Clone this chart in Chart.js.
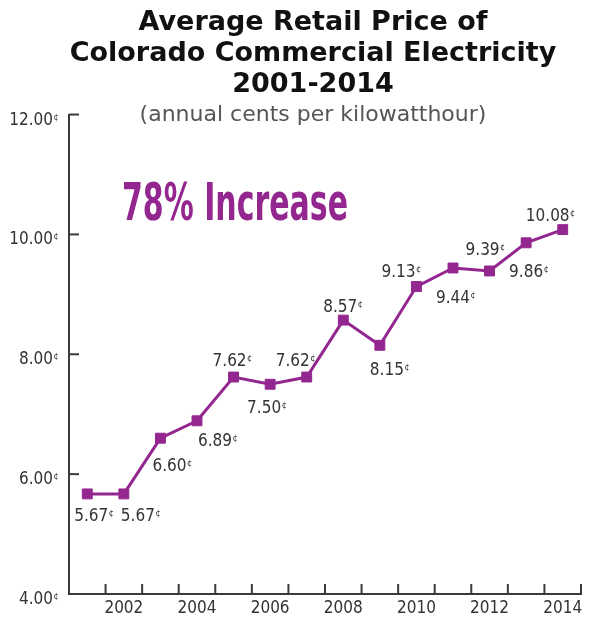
<!DOCTYPE html>
<html>
<head>
<meta charset="utf-8">
<script src="https://cdn.jsdelivr.net/npm/chart.js@4/dist/chart.umd.min.js"></script>
<style>
  html, body { margin: 0; padding: 0; background: #fff; }
  #wrap { width: 592px; height: 620px; }
</style>
</head>
<body>
<div id="wrap"><canvas id="chart" width="592" height="620"></canvas></div>
<script>
// dados
const anos = [2001, 2002, 2003, 2004, 2005, 2006, 2007, 2008, 2009, 2010, 2011, 2012, 2013, 2014];
const precos = [5.67, 5.67, 6.60, 6.89, 7.62, 7.50, 7.62, 8.57, 8.15, 9.13, 9.44, 9.39, 9.86, 10.08];
const ticksY = [4, 6, 8, 10, 12];
const anosRotulados = [2002, 2004, 2006, 2008, 2010, 2012, 2014];
const destaque = '78% Increase';

// deslocamento de cada rótulo em relação ao ponto (centro do número, linha de base)
const deslocRotulos = [[4, 27], [14, 27], [9, 33], [18, 25], [-4, -11], [-6, 29], [-14, -11],
  [-3, -8], [7, 30], [-18, -10], [0, 35], [-7, -16], [0, 34], [-15, -9]];

const ROXO = '#93278f';
const EIXO = '#3a3a3a';
const TEXTO = '#333';
const NARROW = "'Liberation Sans Narrow', 'DejaVu Sans Condensed', 'Arial Narrow', sans-serif";

function desenhaCentavos(ctx, txt, x, y, align) {
  ctx.font = '17px ' + NARROW;
  ctx.textBaseline = 'alphabetic';
  const w = ctx.measureText(txt).width;
  const x0 = align === 'right' ? x - w : x - w / 2;
  ctx.textAlign = 'left';
  ctx.fillText(txt, x0, y);
  ctx.font = '9px ' + NARROW;
  ctx.fillText('¢', x0 + w + 0.5, y - 5);
}

const extras = {
  id: 'extras',
  afterDraw(chart) {
    const { ctx, chartArea: a, scales: { x, y } } = chart;
    ctx.save();
    ctx.strokeStyle = EIXO;
    ctx.lineWidth = 2;
    ctx.fillStyle = TEXTO;

    // marcas do eixo Y (para dentro) e rótulos
    ticksY.forEach(v => {
      const py = y.getPixelForValue(v);
      ctx.beginPath();
      ctx.moveTo(a.left, py);
      ctx.lineTo(a.left + 10, py);
      ctx.stroke();
      desenhaCentavos(ctx, v.toFixed(2), a.left - 16, py + 10, 'right');
    });

    // marcas do eixo X entre categorias
    const passo = x.getPixelForValue(1) - x.getPixelForValue(0);
    anos.forEach((_, i) => {
      const px = x.getPixelForValue(i) + passo / 2;
      ctx.beginPath();
      ctx.moveTo(px, a.bottom);
      ctx.lineTo(px, a.bottom - 10);
      ctx.stroke();
    });

    // rótulos de valor
    const meta = chart.getDatasetMeta(0);
    meta.data.forEach((pt, i) => {
      const [dx, dy] = deslocRotulos[i];
      desenhaCentavos(ctx, precos[i].toFixed(2), pt.x + dx, pt.y + dy, 'center');
    });

    // destaque
    ctx.fillStyle = ROXO;
    ctx.font = 'bold 51px ' + NARROW;
    ctx.textAlign = 'left';
    ctx.textBaseline = 'alphabetic';
    const larg = ctx.measureText(destaque).width;
    const esc = Math.min(1, 226 / larg);
    ctx.translate(a.left + 53, a.top + 105);
    ctx.scale(esc, 1);
    ctx.fillText(destaque, 0, 0);
    ctx.restore();
  }
};

new Chart(document.getElementById('chart'), {
  type: 'line',
  data: {
    labels: anos,
    datasets: [{
      data: precos,
      borderColor: ROXO,
      backgroundColor: ROXO,
      borderWidth: 3,
      tension: 0,
      pointStyle: 'rect',
      pointRadius: 7,
      pointBorderWidth: 1,
      pointBackgroundColor: ROXO,
      pointBorderColor: ROXO
    }]
  },
  options: {
    responsive: false,
    animation: false,
    events: [],
    layout: { padding: { left: 45, right: 11, top: 0, bottom: 0 } },
    plugins: {
      legend: { display: false },
      tooltip: { enabled: false },
      title: {
        display: true,
        text: ['Average Retail Price of', 'Colorado Commercial Electricity', '2001-2014'],
        color: '#111',
        font: { family: "'DejaVu Sans', sans-serif", size: 27, weight: 'bold', lineHeight: 1.15 },
        padding: { top: 7, bottom: 0 }
      },
      subtitle: {
        display: true,
        text: '(annual cents per kilowatthour)',
        color: '#555',
        font: { family: "'DejaVu Sans', sans-serif", size: 22, weight: 'normal', lineHeight: 1.2 },
        padding: { top: 2, bottom: -14 }
      }
    },
    scales: {
      x: {
        type: 'category',
        offset: true,
        grid: { display: false, drawTicks: false },
        border: { display: true, color: EIXO, width: 2 },
        ticks: {
          autoSkip: false,
          maxRotation: 0,
          padding: 4,
          color: TEXTO,
          font: { family: NARROW, size: 17 },
          callback: (v, i) => anosRotulados.includes(anos[i]) ? String(anos[i]) : ''
        },
        afterFit: s => { s.height = 26; }
      },
      y: {
        min: 4,
        max: 12,
        ticks: { display: false, stepSize: 2 },
        grid: { display: false },
        border: { display: true, color: EIXO, width: 2 },
        afterFit: s => { s.width = 24; }
      }
    }
  },
  plugins: [extras]
});
</script>
</body>
</html>
